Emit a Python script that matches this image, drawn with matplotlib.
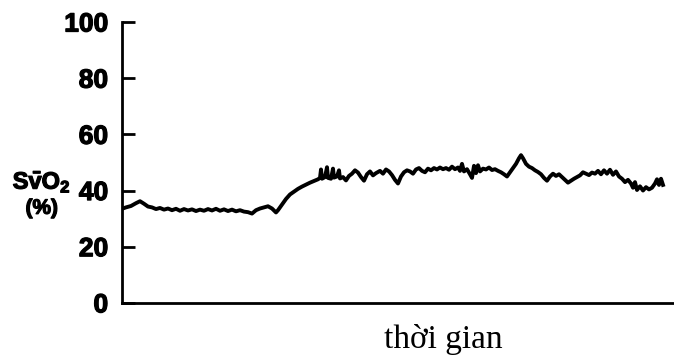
import matplotlib
matplotlib.use("Agg")
import matplotlib.pyplot as plt
import matplotlib.patheffects as pe

# ---- dữ liệu: SvO2 (%) theo thời gian (đơn vị tùy ý) ----
thoi_gian = [
    0, 4, 9, 14, 18, 22, 26, 30, 34, 38, 42, 46, 50, 54, 58, 62, 66, 70, 74, 78,
    82, 86, 90, 94, 98, 102, 106, 110, 114, 118, 122, 126, 130, 134, 138, 142,
    146, 150, 154, 156,
    160, 164, 168, 172, 176, 180, 184, 188, 192, 196, 198, 199, 200, 203, 205,
    206, 209, 211, 212, 215, 217, 218, 221, 224, 227, 230, 233, 236, 239, 242,
    245, 248, 251, 254, 258, 261, 264, 267, 270, 273, 276, 279, 282, 285, 288,
    291, 294, 297, 300, 303, 306, 309, 312, 315, 318, 321, 324, 327, 330, 333,
    336, 338, 340, 342, 345, 348, 350, 352, 354, 356, 358, 361, 364, 367, 370,
    373, 376, 379, 382, 385, 388, 391, 394, 397, 399, 401, 404, 407, 410, 413,
    416, 419, 422, 425, 428, 431, 434, 437, 440, 443, 446, 449, 452, 455, 458,
    461, 464, 467, 470, 473, 476, 479, 482, 485, 488, 491, 494, 497, 500, 503,
    506, 509, 511, 513, 515, 518, 521, 524, 527, 530, 533, 535, 537, 539, 541,
]
svo2 = [
    33.5, 34.0, 34.5, 35.5, 36.2, 35.3, 34.3, 34.0, 33.4, 33.8, 33.2, 33.6, 33.0,
    33.5, 32.8, 33.4, 32.9, 33.3, 32.7, 33.2, 32.8, 33.4, 32.9, 33.5, 32.8, 33.3,
    32.7, 33.2, 32.6, 33.0, 32.5, 32.3, 31.8, 33.0, 33.6, 34.0, 34.4, 33.6, 32.2,
    33.0,
    35.0, 37.0, 38.6, 39.6, 40.6, 41.4, 42.1, 42.8, 43.4, 44.0, 44.5, 47.5, 44.2,
    44.8, 48.3, 44.5, 44.2, 47.8, 44.6, 45.0, 47.2, 44.3, 44.8, 43.6, 45.2, 46.0,
    47.2, 46.4, 44.8, 43.5, 45.8, 46.8, 45.4, 46.2, 47.0, 46.0, 47.5, 46.8, 45.5,
    43.8, 42.5, 45.0, 46.5, 47.2, 46.8, 46.0, 47.5, 48.0, 47.0, 46.5, 47.8, 47.2,
    48.0, 47.5, 48.2, 47.6, 48.0, 47.4, 48.5, 47.6, 48.2, 47.0, 49.5, 46.8, 47.6,
    45.8, 44.5, 48.8, 46.2, 49.0, 46.8, 47.8, 47.5, 48.2, 47.3, 47.6, 47.0, 46.5,
    45.8, 45.0, 46.5, 48.0, 49.5, 51.5, 52.6, 51.5, 49.5, 48.5, 48.0, 47.2, 46.6,
    45.8, 44.5, 43.5, 45.0, 46.0, 45.2, 45.8, 44.8, 43.8, 42.8, 43.5, 44.2, 44.8,
    45.4, 46.5, 46.0, 45.5, 46.4, 46.0, 47.0, 45.8, 47.2, 46.0, 47.4, 45.6, 46.8,
    45.0, 44.2, 43.0, 43.8, 42.5, 41.0, 43.0, 40.2, 41.5, 40.0, 41.2, 40.4, 41.0,
    42.5, 44.0, 42.0, 44.2, 42.0,
]
y_ticks = [0, 20, 40, 60, 80, 100]

plt.rcParams["mathtext.fontset"] = "custom"
plt.rcParams["mathtext.bf"] = "Liberation Sans:bold"
plt.rcParams["mathtext.rm"] = "Liberation Sans"

dam = [pe.withStroke(linewidth=0.9, foreground="black")]

fig = plt.figure(figsize=(6.74, 3.61), dpi=100)
ax = fig.add_axes([0.181, 0.161, 0.819, 0.778])

ax.plot(thoi_gian, svo2, color="black", lw=2.8, solid_joinstyle="round")

ax.set_xlim(0, 552)
ax.set_ylim(0, 100)
ax.set_xticks([])
ax.set_yticks(y_ticks)
ax.set_yticklabels([str(v) for v in y_ticks], fontfamily="Liberation Sans",
                   fontweight="bold", fontsize=19)
for lb in ax.get_yticklabels():
    lb.set_path_effects(dam)
ax.tick_params(axis="y", direction="in", length=9, width=2.0, pad=10)

for s in ("top", "right"):
    ax.spines[s].set_visible(False)
for s in ("left", "bottom"):
    ax.spines[s].set_linewidth(2.0)

# nhãn trục tung
fig.text(0.062, 0.497, r"$\mathbf{S\bar{v}O_2}$", ha="center", va="center",
         fontsize=17, path_effects=dam)
fig.text(0.062, 0.423, "(%)", ha="center", va="center", fontsize=15,
         fontfamily="Liberation Sans", fontweight="bold", path_effects=dam)

# nhãn trục hoành
fig.text(0.657, 0.035, "thời gian", ha="center", va="baseline", fontsize=24,
         fontfamily="Liberation Serif")

fig.savefig("out.png", dpi=100, facecolor="white")
